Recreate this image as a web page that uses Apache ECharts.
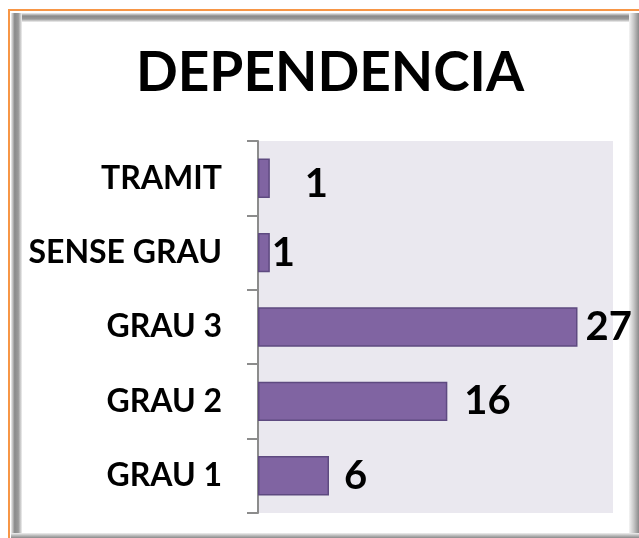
<!DOCTYPE html>
<html>
<head>
<meta charset="utf-8">
<script src="https://cdn.jsdelivr.net/npm/echarts@6/dist/echarts.min.js"></script>
<style>html,body{margin:0;padding:0;background:#fff;}#c{width:639px;height:538px;}</style>
</head>
<body>
<div id="c"></div>
<script>
const titleText = 'DEPENDENCIA';
const categories = ['GRAU 1', 'GRAU 2', 'GRAU 3', 'SENSE GRAU', 'TRAMIT'];
const values = [6, 16, 27, 1, 1];
const axisMax = 30;

const labelDistance = [15, 17, 8, 2, 35];
const labelOffsetY = [0, 0, 0, 0, 6];

function grad(x, y, x2, y2, stops) {
  return new echarts.graphic.LinearGradient(x, y, x2, y2, stops.map((c, i) => ({ offset: i / (stops.length - 1), color: c })));
}

const chart = echarts.init(document.getElementById('c'));
chart.setOption({
  animation: false,
  backgroundColor: '#ffffff',
  title: {
    text: titleText,
    left: 325, top: 41, textAlign: 'center',
    textStyle: { fontFamily: 'Lato', fontWeight: 'bold', fontSize: 55, color: '#000' }
  },
  grid: { left: 258, top: 141, right: 26, bottom: 25, show: true, backgroundColor: '#EAE8EF', borderWidth: 0 },
  xAxis: {
    type: 'value', min: 0, max: axisMax,
    show: false, splitLine: { show: false }
  },
  yAxis: {
    type: 'category', data: categories,
    axisLine: { show: true, lineStyle: { color: '#8c8c8c', width: 2 } },
    axisTick: { show: true, length: 11, lineStyle: { color: '#8c8c8c', width: 2 } },
    axisLabel: { margin: 36, fontFamily: 'Lato', fontWeight: 'bold', fontSize: 32, color: '#000' },
    splitLine: { show: false }
  },
  series: [{
    type: 'bar',
    data: values.map((v, i) => ({
      value: v,
      label: { distance: labelDistance[i], offset: [0, labelOffsetY[i]] }
    })),
    barCategoryGap: '47%',
    itemStyle: { color: '#8064A2', borderColor: '#5E4A80', borderWidth: 1.5 },
    label: { show: true, position: 'right', fontFamily: 'Lato', fontWeight: 'bold', fontSize: 40, color: '#000' }
  }],
  graphic: [
    { type: 'rect', shape: { x: 11, y: 13, width: 628, height: 9 }, style: { fill: grad(0, 0, 0, 1, ['#eeeeee', '#8a8a8a', '#9a9a9a', '#f0f0f0']) }, z: 1 },
    { type: 'rect', shape: { x: 11, y: 13, width: 11, height: 525 }, style: { fill: grad(0, 0, 1, 0, ['#eeeeee', '#8a8a8a', '#9a9a9a', '#f0f0f0']) }, z: 1 },
    { type: 'rect', shape: { x: 629, y: 13, width: 10, height: 525 }, style: { fill: grad(0, 0, 1, 0, ['#f4f4f4', '#c4c4c4', '#8a8a8a']) }, z: 1 },
    { type: 'rect', shape: { x: 11, y: 533, width: 628, height: 5 }, style: { fill: grad(0, 0, 0, 1, ['#f0f0f0', '#bbbbbb', '#8a8a8a']) }, z: 1 },
    { type: 'line', shape: { x1: 8, y1: 10, x2: 639, y2: 10 }, style: { stroke: '#F79646', lineWidth: 2 }, z: 2 },
    { type: 'line', shape: { x1: 9, y1: 10, x2: 9, y2: 538 }, style: { stroke: '#F79646', lineWidth: 2 }, z: 2 }
  ]
});
</script>
</body>
</html>
